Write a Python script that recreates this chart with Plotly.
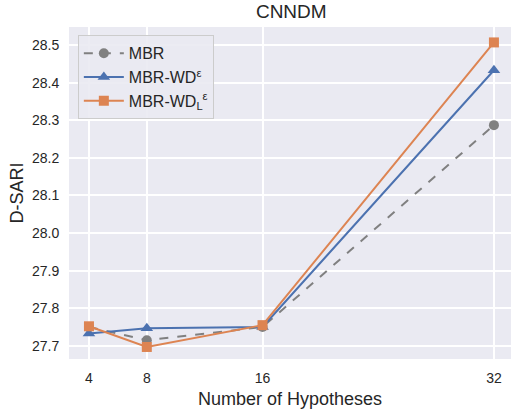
import plotly.graph_objects as go

hyps = [4, 8, 16, 32]
mbr = [27.750, 27.715, 27.750, 28.287]
mbr_wd = [27.733, 27.747, 27.750, 28.433]
mbr_wdl = [27.752, 27.697, 27.755, 28.507]
yticks = [27.7, 27.8, 27.9, 28.0, 28.1, 28.2, 28.3, 28.4, 28.5]

fig = go.Figure()
fig.add_trace(go.Scatter(x=hyps, y=mbr, mode="lines+markers", name="MBR",
                         line=dict(color="#808080", width=2, dash="dash"),
                         marker=dict(symbol="circle", size=10, color="#808080")))
fig.add_trace(go.Scatter(x=hyps, y=mbr_wd, mode="lines+markers", name="MBR-WD<sup>ε</sup>",
                         line=dict(color="#4C72B0", width=2),
                         marker=dict(symbol="triangle-up", size=11, color="#4C72B0")))
fig.add_trace(go.Scatter(x=hyps, y=mbr_wdl, mode="lines+markers", name="MBR-WD<sub>L</sub><sup>ε</sup>",
                         line=dict(color="#DD8452", width=2),
                         marker=dict(symbol="square", size=10, color="#DD8452")))

fig.update_layout(
    width=511, height=410,
    margin=dict(l=69, r=0, t=27, b=51, autoexpand=False),
    paper_bgcolor="white", plot_bgcolor="#EAEAF2",
    font=dict(family="Liberation Sans, Arial, sans-serif", color="#262626"),
    title=dict(text="CNNDM", x=0.57, xanchor="center", y=0.972, yanchor="middle",
               font=dict(size=19, color="#262626")),
    xaxis=dict(range=[2.62, 33.18], tickvals=hyps, ticktext=[str(h) for h in hyps],
               showgrid=True, gridcolor="white", gridwidth=1.5, zeroline=False,
               tickfont=dict(size=14), ticks="outside", ticklen=6, tickcolor="rgba(0,0,0,0)",
               automargin=False,
               title=dict(text="Number of Hypotheses", font=dict(size=18), standoff=7)),
    yaxis=dict(range=[27.665, 28.548], tickvals=yticks, ticktext=[f"{v:.1f}" for v in yticks],
               showgrid=True, gridcolor="white", gridwidth=1.5, zeroline=False,
               tickfont=dict(size=14), ticks="outside", ticklen=6, tickcolor="rgba(0,0,0,0)",
               automargin=False,
               title=dict(text="D-SARI", font=dict(size=18), standoff=3)),
    legend=dict(x=0.02, y=0.975, xanchor="left", yanchor="top",
                bgcolor="rgba(234,234,242,0.9)", bordercolor="#CCCCCC", borderwidth=1,
                font=dict(size=16), itemwidth=40, tracegroupgap=0),
)

fig.write_html("out.html", config={"displayModeBar": False},
               post_script="document.body.style.margin='0px';")
